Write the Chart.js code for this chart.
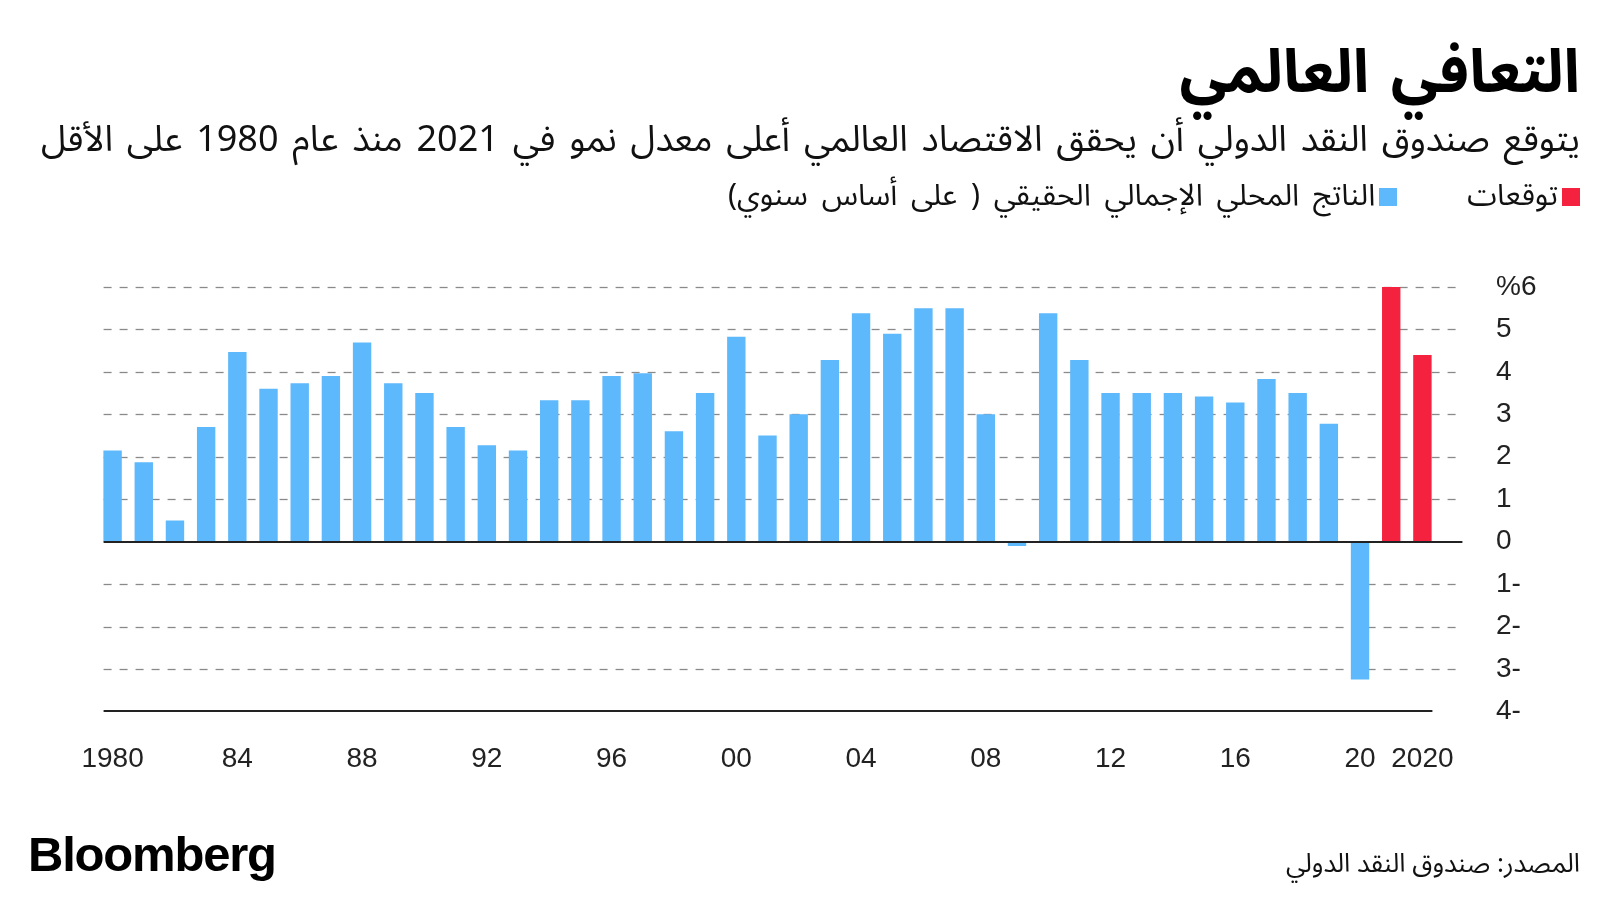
<!DOCTYPE html>
<html lang="ar">
<head>
<meta charset="utf-8">
<script src="https://cdn.jsdelivr.net/npm/chart.js@4"></script>
<style>
  html, body { margin: 0; padding: 0; background: #fff; }
  #wrap { position: relative; width: 1600px; height: 900px; overflow: hidden; }
  #chart { position: absolute; left: 0; top: 0; }
  .txt { position: absolute; white-space: nowrap; color: #111; font-family: "Noto Sans Arabic", "DejaVu Sans", sans-serif; }
  #title { right: 20px; top: 10px; font-size: 60px; font-weight: bold; word-spacing: 6px; direction: rtl; color: #000; }
  #subtitle { right: 20px; top: 102px; font-size: 36px; word-spacing: 4.5px; direction: rtl; }
  #legend { right: 20px; top: 164px; font-size: 30px; word-spacing: 6px; direction: rtl; }
  #legend span.sw { display: inline-block; width: 18px; height: 18px; vertical-align: middle; margin-left: 4px; }
  #legend .item { margin-left: 70px; }
  #source { right: 20px; top: 836px; font-size: 26px; direction: rtl; }
  #logo { left: 28px; top: 826px; font-family: "Liberation Sans", Arial, sans-serif; font-weight: bold; font-size: 49px; letter-spacing: -1.2px; color: #000; }
</style>
</head>
<body>
<div id="wrap">
  <canvas id="chart" width="1600" height="900"></canvas>
  <div class="txt" id="title">التعافي العالمي</div>
  <div class="txt" id="subtitle">يتوقع صندوق النقد الدولي أن يحقق الاقتصاد العالمي أعلى معدل نمو في 2021 منذ عام 1980 على الأقل</div>
  <div class="txt" id="legend"><span class="item"><span class="sw" style="background:#f4213f"></span>توقعات</span><span><span class="sw" style="background:#5eb9fc"></span>الناتج المحلي الإجمالي الحقيقي ( على أساس سنوي)</span></div>
  <div class="txt" id="logo">Bloomberg</div>
  <div class="txt" id="source">المصدر: صندوق النقد الدولي</div>
</div>
<script>
// years shown on the axis
const years = [
  1980, 1981, 1982, 1983, 1984, 1985, 1986, 1987, 1988, 1989,
  1990, 1991, 1992, 1993, 1994, 1995, 1996, 1997, 1998, 1999,
  2000, 2001, 2002, 2003, 2004, 2005, 2006, 2007, 2008, 2009,
  2010, 2011, 2012, 2013, 2014, 2015, 2016, 2017, 2018, 2019,
  2020, 2021, 2022
];

// real GDP growth, % y/y
const growth = [
  2.15, 1.87, 0.5, 2.7, 4.47, 3.6, 3.73, 3.9, 4.69, 3.73,
  3.5, 2.7, 2.27, 2.15, 3.33, 3.33, 3.9, 3.97, 2.6, 3.5,
  4.83, 2.5, 3.0, 4.28, 5.38, 4.9, 5.5, 5.5, 3.0, -0.1,
  5.38, 4.28, 3.5, 3.5, 3.5, 3.42, 3.28, 3.83, 3.5, 2.78,
  -3.25, 6.0, 4.4
];

const forecastYears = [2021, 2022];

// labels under the bars (empty = no label)
const xTickLabels = {
  1980: "1980", 1984: "84", 1988: "88", 1992: "92", 1996: "96",
  2000: "00", 2004: "04", 2008: "08", 2012: "12", 2016: "16",
  2020: "20", 2022: "2020"
};

const yTickLabels = {
  6: "%6", 5: "5", 4: "4", 3: "3", 2: "2", 1: "1",
  0: "0", "-1": "1-", "-2": "2-", "-3": "3-", "-4": "4-"
};

const blue = "#5eb9fc";
const red = "#f4213f";

// dashed grid, zero line and bottom line
const gridPlugin = {
  id: "gridLines",
  beforeDatasetsDraw(chart) {
    const ctx = chart.ctx;
    const x = chart.scales.x;
    const y = chart.scales.y;
    const left = x.getPixelForValue(0) - 9;
    const right = x.getPixelForValue(years.length - 1) + 40;
    ctx.save();
    ctx.lineWidth = 1.3;
    ctx.strokeStyle = "#8a8a8a";
    ctx.setLineDash([8, 8]);
    for (let v = -3; v <= 6; v++) {
      if (v === 0) continue;
      const py = Math.round(y.getPixelForValue(v)) + 0.5;
      ctx.beginPath();
      ctx.moveTo(left, py);
      ctx.lineTo(right, py);
      ctx.stroke();
    }
    ctx.restore();
  },
  afterDatasetsDraw(chart) {
    const ctx = chart.ctx;
    const x = chart.scales.x;
    const y = chart.scales.y;
    const left = x.getPixelForValue(0) - 9;
    const right = x.getPixelForValue(years.length - 1) + 40;
    ctx.save();
    ctx.strokeStyle = "#222";
    ctx.lineWidth = 2;
    let py = Math.round(y.getPixelForValue(0));
    ctx.beginPath();
    ctx.moveTo(left, py);
    ctx.lineTo(right, py);
    ctx.stroke();
    py = Math.round(y.getPixelForValue(-4));
    ctx.beginPath();
    ctx.moveTo(left, py);
    ctx.lineTo(x.getPixelForValue(years.length - 1) + 10, py);
    ctx.stroke();
    ctx.restore();
  }
};

new Chart(document.getElementById("chart"), {
  type: "bar",
  data: {
    labels: years,
    datasets: [{
      data: growth,
      backgroundColor: years.map((yr) => forecastYears.includes(yr) ? red : blue),
      borderWidth: 0,
      barPercentage: 0.59,
      categoryPercentage: 1.0
    }]
  },
  options: {
    responsive: false,
    animation: false,
    layout: { padding: { left: 97, right: 0, top: 287, bottom: 101 } },
    plugins: { legend: { display: false }, tooltip: { enabled: false } },
    scales: {
      x: {
        offset: true,
        grid: { display: false },
        border: { display: false },
        ticks: {
          autoSkip: false,
          maxRotation: 0,
          padding: 23,
          color: "#222",
          font: { family: "Liberation Sans", size: 28 },
          callback: (val, i) => xTickLabels[years[i]] || ""
        }
      },
      y: {
        position: "right",
        min: -4,
        max: 6,
        grid: { display: false },
        border: { display: false },
        afterFit: (scale) => { scale.width = 162; },
        ticks: {
          stepSize: 1,
          padding: 50,
          color: "#222",
          font: { family: "Liberation Sans", size: 28 },
          callback: (v) => yTickLabels[v]
        }
      }
    }
  },
  plugins: [gridPlugin]
});
</script>
</body>
</html>
